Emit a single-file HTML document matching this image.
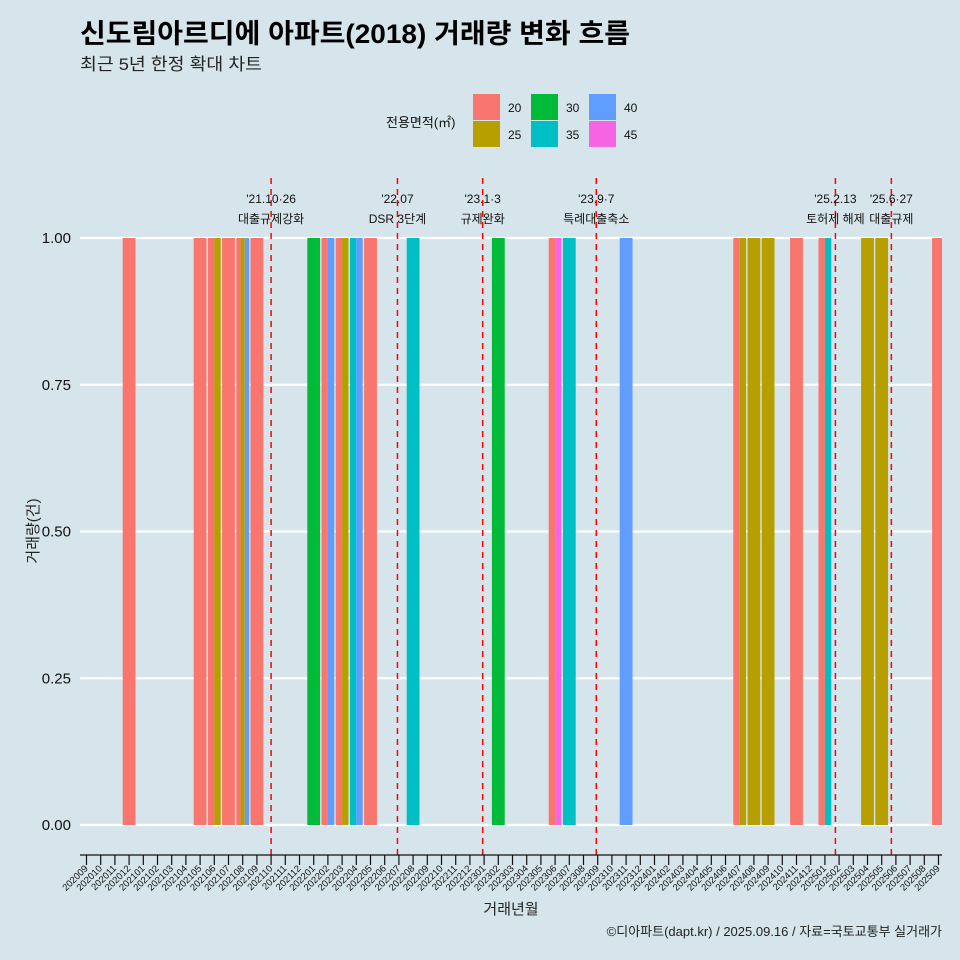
<!DOCTYPE html>
<html><head><meta charset="utf-8"><style>
body{margin:0;background:#d6e4eb;}
svg{display:block;font-family:"Liberation Sans","Noto Sans CJK KR",sans-serif;}
</style></head><body>
<svg id="chart" width="960" height="960" viewBox="0 0 960 960">
<rect width="960" height="960" fill="#d6e4eb"/>
<text x="80" y="43" font-size="27" font-weight="bold" fill="#000" textLength="550" lengthAdjust="spacingAndGlyphs">신도림아르디에 아파트(2018) 거래량 변화 흐름</text>
<text x="80" y="70" font-size="17" fill="#222" textLength="182" lengthAdjust="spacingAndGlyphs">최근 5년 한정 확대 차트</text>
<g id="legend"></g>
<g id="grid"></g><g id="bars"></g><g id="events"></g><g id="axes"></g>
<text x="511" y="914" font-size="15" text-anchor="middle" fill="#222">거래년월</text>
<text transform="translate(38,531) rotate(-90)" font-size="15" text-anchor="middle" fill="#222">거래량(건)</text>
<text x="942" y="936" font-size="13" text-anchor="end" fill="#222">©디아파트(dapt.kr) / 2025.09.16 / 자료=국토교통부 실거래가</text>
</svg>
<script>
const areas=["20","25","30","35","40","45"];
const colors=["#F8766D","#B79F00","#00BA38","#00BFC4","#619CFF","#F564E3"];
const monthIdx=[3,8,9,10,11,12,16,17,18,19,20,23,29,33,34,38,46,47,48,50,52,55,56,60];
const monthAreas=[["20"],["20"],["20","25"],["20"],["20","25","40"],["20"],["30"],["20","40"],["20","25"],["35","40"],["20"],["35"],["30"],["20","45"],["35"],["40"],["20","25"],["25"],["25"],["20"],["20","35"],["25"],["25"],["20"]];
const counts=1;
const yTicks=[0,0.25,0.5,0.75,1];
const yTickLabels=["0.00","0.25","0.50","0.75","1.00"];
const eventPos=[13.0,21.9,27.9,35.9,52.74,56.68];
const eventL1=["'21.10·26","'22.07","'23.1·3","'23.9·7","'25.2.13","'25.6·27"];
const eventL2=["대출규제강화","DSR 3단계","규제완화","특례대출축소","토허제 해제","대출규제"];
const NS="http://www.w3.org/2000/svg";
function mk(t,a,p){const e=document.createElementNS(NS,t);for(const k in a)e.setAttribute(k,a[k]);p.appendChild(e);return e;}
const months=[];for(let y=2020,m=9;months.length<61;){months.push(y+String(m).padStart(2,"0"));m++;if(m>12){m=1;y++;}}
const x=i=>86.5+14.2*i;
const y=v=>825-587*v;
const grid=document.getElementById("grid"),bars=document.getElementById("bars"),ev=document.getElementById("events"),ax=document.getElementById("axes");
const svg=document.getElementById("chart");
const defs=mk("defs",{},svg);
const cp=mk("clipPath",{id:"panel"},defs);
mk("rect",{x:80,y:170,width:862,height:700},cp);
bars.setAttribute("clip-path","url(#panel)");
yTicks.forEach((v,k)=>{
 const l=mk("line",{x1:80,x2:942,y1:y(v),y2:y(v),stroke:"#fff","stroke-width":2.2},grid);
 
 
 const t=mk("text",{x:71,y:y(v)+5,"font-size":15,"text-anchor":"end",fill:"#111"},ax);
 t.textContent=yTickLabels[k];
 
 
});
const bw=12.8;
monthIdx.forEach((mi,k)=>{
 const list=monthAreas[k],n=list.length,w=bw/n;
 list.forEach((a,j)=>{
  const r=mk("rect",{x:x(mi)-bw/2+j*w,y:y(counts),width:w,height:y(0)-y(counts),fill:colors[areas.indexOf(a)]},bars);
  
  
 });
});
eventPos.forEach((p,k)=>{
 const l=mk("line",{x1:x(p),x2:x(p),y1:178,y2:855,stroke:"#f00","stroke-width":1.5,"stroke-dasharray":"6,5"},ev);
 
 
 const t1=mk("text",{x:x(p),y:203,"font-size":12,"text-anchor":"middle",fill:"#111"},ev);
 t1.textContent=eventL1[k];
 
 
 const t2=mk("text",{x:x(p),y:223,"font-size":12,"text-anchor":"middle",fill:"#111"},ev);
 t2.textContent=eventL2[k];
 
 
});
const axl=mk("line",{x1:80,x2:942,y1:855,y2:855,stroke:"#111","stroke-width":1.2},ax);


months.forEach((m,i)=>{
 const tk=mk("line",{x1:x(i),x2:x(i),y1:855,y2:865,stroke:"#111","stroke-width":1.2},ax);
 
 
 const t=mk("text",{transform:`translate(${x(i)+2},869) rotate(-45)`,"font-size":9.5,"text-anchor":"end",fill:"#111"},ax);
 t.textContent=m;
 
 
});
const lg=document.getElementById("legend");
const lt=mk("text",{x:386,y:127,"font-size":13,fill:"#111"},lg);
lt.textContent="전용면적(㎡)";


areas.forEach((a,k)=>{
 const cx=473+58*Math.floor(k/2),cy=94+27*(k%2);
 const r=mk("rect",{x:cx,y:cy,width:27,height:26,fill:colors[k]},lg);
 
 
 const t=mk("text",{x:cx+35,y:cy+18,"font-size":12,fill:"#111"},lg);
 t.textContent=a;
 
 
});
</script>
</body></html>
